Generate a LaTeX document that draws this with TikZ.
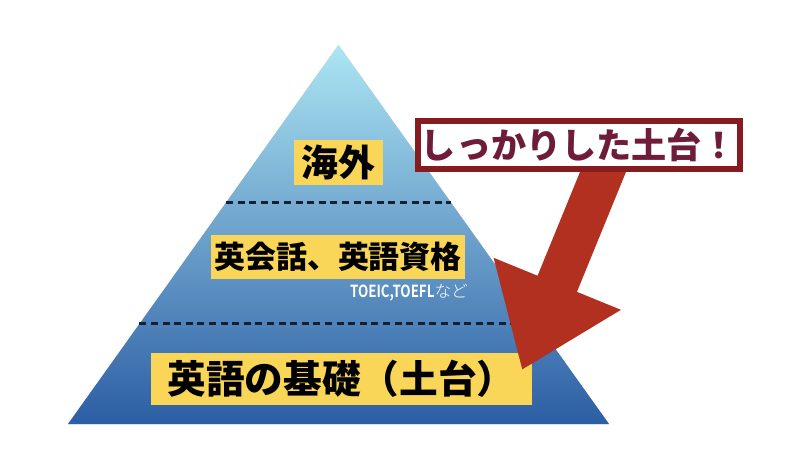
\documentclass[tikz,border=0pt]{standalone}
\usepackage{fontspec}
\newfontfamily\jpheavy{Noto Sans CJK JP Black}
\newfontfamily\jpbold{Noto Sans CJK JP Bold}[FakeStretch=0.8]
\newfontfamily\jplight{Noto Sans CJK JP Light}
\usetikzlibrary{calc,arrows.meta}
\definecolor{pyrtop}{RGB}{172,229,243}
\definecolor{pyrbot}{RGB}{44,94,164}
\definecolor{layerdash}{RGB}{22,32,52}
\definecolor{labelyellow}{RGB}{249,214,88}
\definecolor{arrowred}{RGB}{178,48,32}
\definecolor{calloutframe}{RGB}{135,28,32}
\definecolor{callouttext}{RGB}{110,28,58}

\begin{document}
\begin{tikzpicture}[x=0.02cm,y=-0.02cm]
    \useasboundingbox[fill=white] (0,0) rectangle (800,450);
    \tikzset{LayerLabel/.style = {fill=labelyellow, inner sep=0pt, text=black}}
    \tikzset{LayerLine/.style = {draw=layerdash, line width=1.7pt, dash pattern=on 4pt off 2.6pt}}
    \tikzset{BigArrow/.style = {draw=arrowred, line width=24.2pt, -{Triangle[length=53pt,width=74.5pt]}}}
    \coordinate (apex) at (338.5,45);
    \coordinate (bl) at (68,424);
    \coordinate (br) at (609,424);
    \foreach \s/\o in {3/0.12,6/0.08,9/0.05}
        \fill[black, opacity=\o, shift={(\s,\s)}] (apex) -- (br) -- (bl) -- cycle;
    \shade[top color=pyrtop, bottom color=pyrbot] (apex) -- (br) -- (bl) -- cycle;
    \draw[LayerLine] ($(apex)!0.4156!(bl)$) -- ($(apex)!0.4156!(br)$);
    \draw[LayerLine] ($(apex)!0.736!(bl)$) -- ($(apex)!0.736!(br)$);
    \node[LayerLabel, minimum width=1.78cm, minimum height=0.9cm,
        font={\jpheavy\fontsize{21pt}{24pt}\selectfont}] (abroad) at (338.5,162.5) {海外};
    \node[LayerLabel, minimum width=5.08cm, minimum height=0.88cm,
        font={\jpheavy\fontsize{17.6pt}{20pt}\selectfont}] (skills) at (338,257) {英会話、英語資格};
    \node[text=white, inner sep=0pt, font={\fontsize{9.5pt}{11pt}\selectfont}] (exams) at (409,293)
        {{\jpbold TOEIC,TOEFL}{\jplight など}};
    \node[LayerLabel, minimum width=7.62cm, minimum height=1.04cm,
        font={\jpheavy\fontsize{22pt}{25pt}\selectfont}] (basics) at (341.5,379) {英語の基礎（土台）};
    \coordinate (from) at (614,145);
    \coordinate (tip) at (522,370);
    \draw[BigArrow, draw=black, opacity=0.1, shift={(5,4)}] (from) -- (tip);
    \draw[BigArrow] (from) -- (tip);
    \node[draw=calloutframe, line width=3.4pt, fill=white, text=callouttext, inner sep=0pt,
        minimum width=6.44cm, minimum height=0.96cm,
        font={\jpheavy\fontsize{20pt}{24pt}\selectfont}] (callout) at (579,145) {しっかりした土台！};
\end{tikzpicture}
\end{document}
